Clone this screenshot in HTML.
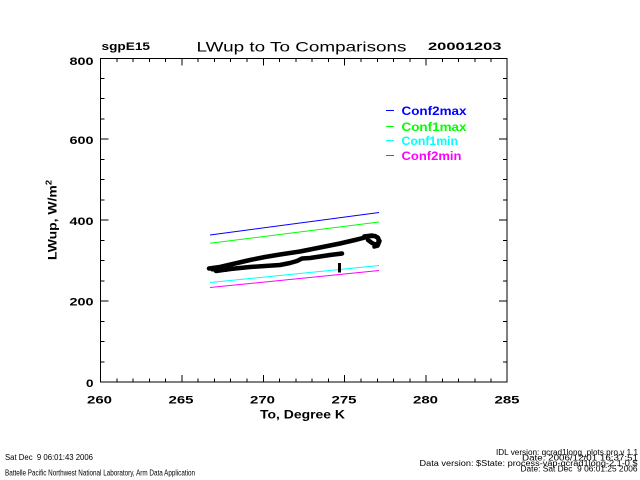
<!DOCTYPE html>
<html><head><meta charset="utf-8"><style>
html,body{margin:0;padding:0;background:#fff;}
svg{display:block;}
text{font-family:"Liberation Sans",sans-serif;fill:#000;}
.tk{font-size:11px;font-weight:bold;}
.ft{font-size:8px;white-space:pre;}
</style></head><body>
<svg width="640" height="480" viewBox="0 0 640 480" xmlns="http://www.w3.org/2000/svg">
<rect width="640" height="480" fill="#fff"/>
<!-- header -->
<text x="101.5" y="50" font-size="11" font-weight="bold" textLength="48.5" lengthAdjust="spacingAndGlyphs">sgpE15</text>
<text x="196.5" y="51.5" font-size="14" textLength="210" lengthAdjust="spacingAndGlyphs">LWup to To Comparisons</text>
<text x="428" y="50" font-size="11" font-weight="bold" textLength="73.5" lengthAdjust="spacingAndGlyphs">20001203</text>

<!-- frame -->
<g stroke="#000" stroke-width="1" fill="none" shape-rendering="crispEdges">
<rect x="100.5" y="58.5" width="406.5" height="323.5"/>
<path id="ticks" d="
M100.5 382 v-7 M116.8 382 v-3.5 M133.1 382 v-3.5 M149.3 382 v-3.5 M165.6 382 v-3.5
M181.9 382 v-7 M198.2 382 v-3.5 M214.5 382 v-3.5 M230.7 382 v-3.5 M247 382 v-3.5
M263.3 382 v-7 M279.6 382 v-3.5 M295.9 382 v-3.5 M312.1 382 v-3.5 M328.4 382 v-3.5
M344.7 382 v-7 M361 382 v-3.5 M377.3 382 v-3.5 M393.5 382 v-3.5 M409.8 382 v-3.5
M426.1 382 v-7 M442.4 382 v-3.5 M458.7 382 v-3.5 M474.9 382 v-3.5 M491.2 382 v-3.5
M100.5 58.5 v7 M116.8 58.5 v3.5 M133.1 58.5 v3.5 M149.3 58.5 v3.5 M165.6 58.5 v3.5
M181.9 58.5 v7 M198.2 58.5 v3.5 M214.5 58.5 v3.5 M230.7 58.5 v3.5 M247 58.5 v3.5
M263.3 58.5 v7 M279.6 58.5 v3.5 M295.9 58.5 v3.5 M312.1 58.5 v3.5 M328.4 58.5 v3.5
M344.7 58.5 v7 M361 58.5 v3.5 M377.3 58.5 v3.5 M393.5 58.5 v3.5 M409.8 58.5 v3.5
M426.1 58.5 v7 M442.4 58.5 v3.5 M458.7 58.5 v3.5 M474.9 58.5 v3.5 M491.2 58.5 v3.5
M100.5 361.75 h4 M100.5 341.5 h4 M100.5 321.25 h4 M100.5 301 h8
M100.5 280.75 h4 M100.5 260.5 h4 M100.5 240.25 h4 M100.5 220 h8
M100.5 199.75 h4 M100.5 179.5 h4 M100.5 159.25 h4 M100.5 139 h8
M100.5 118.75 h4 M100.5 98.5 h4 M100.5 78.25 h4
M507 361.75 h-4 M507 341.5 h-4 M507 321.25 h-4 M507 301 h-8
M507 280.75 h-4 M507 260.5 h-4 M507 240.25 h-4 M507 220 h-8
M507 199.75 h-4 M507 179.5 h-4 M507 159.25 h-4 M507 139 h-8
M507 118.75 h-4 M507 98.5 h-4 M507 78.25 h-4
"/>
</g>

<!-- y tick labels -->
<text class="tk" x="93.5" y="65" text-anchor="end" textLength="24" lengthAdjust="spacingAndGlyphs">800</text>
<text class="tk" x="93.5" y="144" text-anchor="end" textLength="24" lengthAdjust="spacingAndGlyphs">600</text>
<text class="tk" x="93.5" y="225" text-anchor="end" textLength="24" lengthAdjust="spacingAndGlyphs">400</text>
<text class="tk" x="93.5" y="305.5" text-anchor="end" textLength="24" lengthAdjust="spacingAndGlyphs">200</text>
<text class="tk" x="93.5" y="387" text-anchor="end" textLength="7.5" lengthAdjust="spacingAndGlyphs">0</text>

<!-- x tick labels -->
<text class="tk" x="87" y="403.5" textLength="25" lengthAdjust="spacingAndGlyphs">260</text>
<text class="tk" x="168.5" y="403.5" textLength="25" lengthAdjust="spacingAndGlyphs">265</text>
<text class="tk" x="250" y="403.5" textLength="25" lengthAdjust="spacingAndGlyphs">270</text>
<text class="tk" x="331.5" y="403.5" textLength="25" lengthAdjust="spacingAndGlyphs">275</text>
<text class="tk" x="413" y="403.5" textLength="25" lengthAdjust="spacingAndGlyphs">280</text>
<text class="tk" x="494.5" y="403.5" textLength="25" lengthAdjust="spacingAndGlyphs">285</text>

<!-- axis titles -->
<text x="260" y="418.5" font-size="12" font-weight="bold" textLength="85" lengthAdjust="spacingAndGlyphs">To, Degree K</text>
<text transform="translate(56.5,260) rotate(-90)" font-size="12" font-weight="bold" textLength="80" lengthAdjust="spacingAndGlyphs">LWup, W/m<tspan font-size="8" dy="-5">2</tspan></text>

<!-- series lines -->
<g stroke-width="1" fill="none">
<line x1="210" y1="235" x2="379" y2="212.5" stroke="#0000ff"/>
<line x1="210" y1="243.3" x2="379" y2="222" stroke="#00ff00"/>
<line x1="210" y1="282.5" x2="379" y2="265.5" stroke="#00ffff"/>
<line x1="210" y1="287.5" x2="379" y2="270.5" stroke="#ff00ff"/>
</g>

<!-- black data -->
<g stroke="#000" fill="none" stroke-linejoin="round" stroke-linecap="round">
<polyline stroke-width="4.5" points="209,268.5 220,267 235,263.5 250,260 265,257 280,254.5 300,251.5 320,247.5 340,243.5 355,240 363,238 370,236 375,236 378,238 379,242 376,245 372,243 368,240"/>
<polyline stroke-width="4.5" points="216,271 230,269 250,267 265,266 280,265 290,263 297,261 302,258.5 310,258 320,256.5 330,255 342,253.5"/>
<polyline stroke-width="3.5" points="364,236 372,235 378,237 380,241 378,246 374,247"/>
<polyline stroke-width="3" points="212,270 225,270.5 240,268"/>
</g>
<rect x="338" y="263" width="3" height="9.5" fill="#000"/>

<!-- legend -->
<g stroke-width="1" shape-rendering="crispEdges">
<line x1="386" y1="110.5" x2="394" y2="110.5" stroke="#0000ff"/>
<line x1="386" y1="126.5" x2="394" y2="126.5" stroke="#00ff00"/>
<line x1="386" y1="140.5" x2="394" y2="140.5" stroke="#00ffff"/>
<line x1="386" y1="155.5" x2="394" y2="155.5" stroke="#ff00ff"/>
</g>
<text x="401.5" y="115" font-size="12" font-weight="bold" style="fill:#0000ff" textLength="65" lengthAdjust="spacingAndGlyphs">Conf2max</text>
<text x="401.5" y="131" font-size="12" font-weight="bold" style="fill:#00ff00" textLength="65" lengthAdjust="spacingAndGlyphs">Conf1max</text>
<text x="401.5" y="145" font-size="12" font-weight="bold" style="fill:#00ffff" textLength="56.5" lengthAdjust="spacingAndGlyphs">Conf1min</text>
<text x="401.5" y="160" font-size="12" font-weight="bold" style="fill:#ff00ff" textLength="60" lengthAdjust="spacingAndGlyphs">Conf2min</text>

<!-- footer -->
<text class="ft" x="5" y="460" textLength="88" lengthAdjust="spacingAndGlyphs">Sat Dec  9 06:01:43 2006</text>
<text class="ft" x="5" y="475.5" textLength="190" lengthAdjust="spacingAndGlyphs">Battelle Pacific Northwest National Laboratory, Arm Data Application</text>
<text class="ft" x="638" y="455" text-anchor="end" textLength="142" lengthAdjust="spacingAndGlyphs">IDL version: qcrad1long_plots.pro,v 1.1</text>
<text class="ft" x="638" y="460.5" text-anchor="end" textLength="116" lengthAdjust="spacingAndGlyphs">Date: 2006/12/01 16:37:51</text>
<text class="ft" x="637.5" y="466" text-anchor="end" textLength="218" lengthAdjust="spacingAndGlyphs">Data version: $State: process-vap-qcrad1long-2.1-0 $</text>
<text class="ft" x="637.5" y="471.7" text-anchor="end" textLength="117" lengthAdjust="spacingAndGlyphs">Date: Sat Dec  9 06:01:25 2006</text>
</svg>
</body></html>
